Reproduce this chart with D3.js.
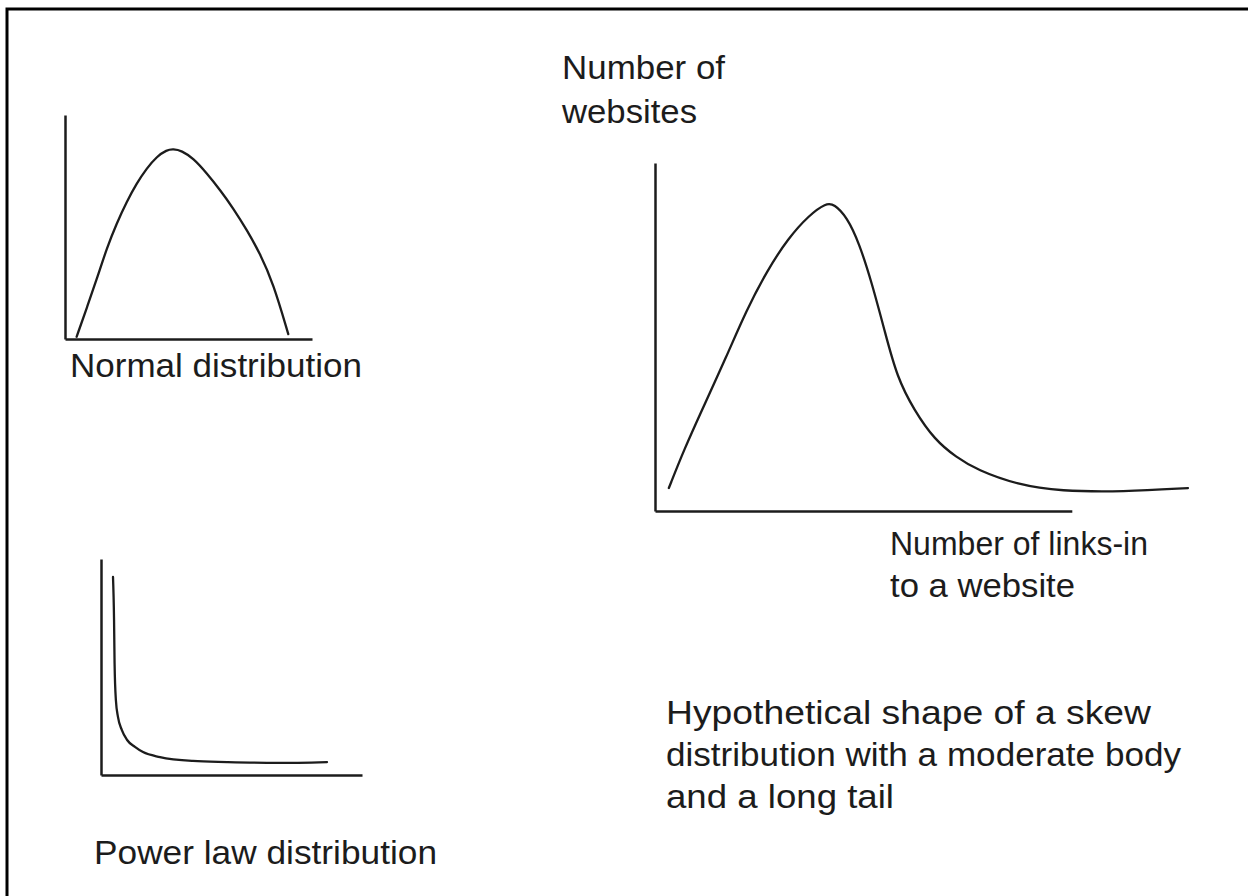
<!DOCTYPE html>
<html>
<head>
<meta charset="utf-8">
<script src="https://cdn.jsdelivr.net/npm/d3@7"></script>
<style>
  html, body { margin: 0; padding: 0; background: #fff; }
  svg { display: block; }
  text { font-family: "Liberation Sans", Arial, sans-serif; fill: #1c1c1c; }
</style>
</head>
<body>
<svg id="chart" width="1248" height="896"></svg>
<script>
// values, x and y in 0..100 units of each panel
const normalX = [4.7, 9.0, 13.2, 16.9, 20.9, 25.0, 29.0, 33.1, 37.1, 41.2, 43.8, 47.2, 51.9, 57.4, 62.8, 68.1, 73.6, 78.9, 84.3, 90.4];
const normalY = [1.0, 14.4, 27.8, 40.5, 51.6, 61.3, 69.5, 76.2, 81.4, 84.4, 84.8, 84.1, 80.7, 74.0, 66.5, 58.4, 48.7, 38.3, 24.9, 2.2];

const powerX = [4.6, 5.0, 5.2, 5.7, 6.5, 8.0, 10.0, 13.0, 16.1, 22.6, 35.2, 48.3, 67.4, 86.6];
const powerY = [91.7, 71.8, 51.9, 34.7, 26.9, 20.8, 16.2, 13.0, 10.6, 8.3, 6.5, 6.0, 5.6, 6.0];

const skewX = [2.6, 5.4, 9.4, 13.3, 17.1, 21.0, 25.0, 28.9, 32.1, 33.6, 36.0, 38.3, 40.7, 43.2, 45.4, 48.6, 52.5, 56.5, 60.4, 68.1, 76.0, 87.8, 100];
const skewY = [6.6, 17.5, 31.0, 44.0, 57.5, 69.0, 78.4, 85.0, 88.5, 88.2, 84.5, 77.0, 65.5, 51.1, 38.5, 29.0, 20.4, 15.5, 11.8, 7.5, 5.7, 5.5, 6.6];

// labels
const normalLabel = ["Normal distribution"];
const powerLabel = ["Power law distribution"];
const skewYLabel = ["Number of", "websites"];
const skewXLabel = ["Number of links-in", "to a website"];
const skewCaption = ["Hypothetical shape of a skew", "distribution with a moderate body", "and a long tail"];

const svg = d3.select("#chart");
const ink = "#1c1c1c";

// frame of the scanned figure (only left and top edges show)
svg.append("path")
  .attr("d", "M7,896 V9 H1248")
  .attr("fill", "none")
  .attr("stroke", "#000")
  .attr("stroke-width", 3);

const zip = (xs, ys) => xs.map((x, i) => [x, ys[i]]);

// draws one panel: axes, curve
const drawPanel = (opts) => {
  const xs = d3.scaleLinear().domain([0, 100]).range(opts.xr);
  const ys = d3.scaleLinear().domain([0, 100]).range(opts.yr);
  const g = svg.append("g");

  const axisEnd = opts.axisEnd || 100;
  const xAxisScale = xs.copy().domain([0, axisEnd]).range([xs(0), xs(axisEnd)]);

  g.append("g")
    .attr("transform", `translate(0,${ys(0)})`)
    .call(d3.axisBottom(xAxisScale).ticks(0).tickSizeOuter(0));
  g.append("g")
    .attr("transform", `translate(${xs(0)},0)`)
    .call(d3.axisLeft(ys).ticks(0).tickSizeOuter(0));
  g.selectAll(".domain")
    .attr("stroke", ink)
    .attr("stroke-width", 2.5);

  const line = d3.line()
    .x((d) => xs(d[0]))
    .y((d) => ys(d[1]))
    .curve(opts.curve);

  g.append("path")
    .datum(zip(opts.x, opts.y))
    .attr("d", line)
    .attr("fill", "none")
    .attr("stroke", ink)
    .attr("stroke-width", 2.3)
    .attr("stroke-linecap", "round");
};

// basis smooths out the small wobbles of the hand readings
drawPanel({ x: normalX, y: normalY, xr: [65, 312], yr: [339, 115], curve: d3.curveBasis });
drawPanel({ x: powerX, y: powerY, xr: [101, 362], yr: [775, 559], curve: d3.curveMonotoneX });
drawPanel({ x: skewX, y: skewY, xr: [655, 1188], yr: [511, 163], axisEnd: 78.2, curve: d3.curveBasis });

// text blocks: x, first baseline, line gap, widths of each line
const addText = (lines, x, y0, gap, widths) => {
  svg.append("g")
    .selectAll("text")
    .data(lines)
    .join("text")
    .attr("x", x)
    .attr("y", (d, i) => y0 + i * gap)
    .attr("font-size", 33)
    .attr("textLength", (d, i) => widths[i])
    .attr("lengthAdjust", "spacingAndGlyphs")
    .text((d) => d);
};

addText(normalLabel, 70, 377, 0, [292]);
addText(powerLabel, 94, 864, 0, [343]);
addText(skewYLabel, 562, 79, 44, [163, 135]);
addText(skewXLabel, 890, 555, 42, [258, 185]);
addText(skewCaption, 666, 724, 42, [485, 515, 228]);
</script>
</body>
</html>
